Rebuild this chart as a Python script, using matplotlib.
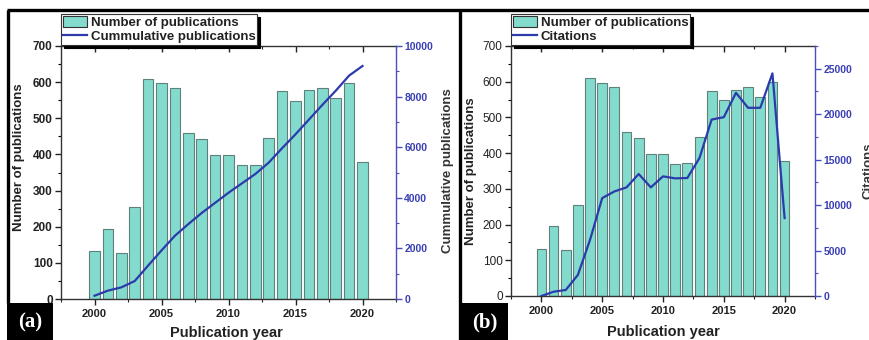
import matplotlib
matplotlib.use("Agg")
import matplotlib.pyplot as plt
from matplotlib.lines import Line2D
from matplotlib.patches import Rectangle, Patch
from matplotlib.ticker import MultipleLocator

plt.rcParams['font.family'] = ['Liberation Sans', 'DejaVu Sans']

years = [2000, 2001, 2002, 2003, 2004, 2005, 2006, 2007, 2008, 2009, 2010,
         2011, 2012, 2013, 2014, 2015, 2016, 2017, 2018, 2019, 2020]
publications = [133, 195, 128, 255, 610, 597, 585, 460, 443, 398, 398,
                370, 372, 446, 575, 548, 578, 585, 556, 598, 378]
cumulative = [130, 330, 460, 710, 1320, 1920, 2500, 2960, 3400, 3800, 4200,
              4570, 4940, 5390, 5960, 6510, 7090, 7670, 8230, 8830, 9210]
citations = [0, 470, 660, 2320, 6180, 10770, 11500, 11950, 13420, 11950, 13160,
             12940, 12980, 15180, 19410, 19670, 22350, 20700, 20700, 24490, 8570]

BAR = '#83dbcd'
BAR_EDGE = '#5f807c'
LINE = '#2b3bac'
RAXIS = '#4a4fc0'
W, H = 870, 340

fig = plt.figure(figsize=(8.7, 3.4), dpi=100)


def fx(px):
    return px / W


def fy(py):
    return 1 - py / H


def make_panel(rect, rdata, rmax, rmajor, rminor, rlabel, legend_label,
               left_tick_weight, ylab_pos, rlab_pos, xlab_pos, legend_px):
    l, t, r, b = rect
    ax = fig.add_axes([fx(l), fy(b), fx(r) - fx(l), fy(t) - fy(b)])
    ax.bar(years, publications, width=0.8, color=BAR, edgecolor=BAR_EDGE,
           linewidth=0.8, zorder=2)
    ax.set_xlim(1997.5, 2022.5)
    ax.set_ylim(0, 700)
    ax.xaxis.set_major_locator(MultipleLocator(5))
    ax.xaxis.set_minor_locator(MultipleLocator(2.5))
    ax.yaxis.set_major_locator(MultipleLocator(100))
    ax.yaxis.set_minor_locator(MultipleLocator(50))
    ax.tick_params(axis='x', which='both', direction='out', top=True,
                   labelsize=8, pad=3, colors='#222222')
    ax.tick_params(axis='x', which='major', length=4, width=1)
    ax.tick_params(axis='x', which='minor', length=2.5, width=0.8)
    ax.tick_params(axis='y', which='major', direction='out', length=4,
                   width=1, labelsize=8.5, pad=2, colors='#222222')
    ax.tick_params(axis='y', which='minor', direction='out', length=2.5,
                   width=0.8)
    # top ticks point inward
    for tk in ax.xaxis.get_major_ticks() + ax.xaxis.get_minor_ticks():
        tk.tick2line.set_marker(3)
    for lab in ax.get_xticklabels():
        lab.set_fontweight('bold')
    for lab in ax.get_yticklabels():
        lab.set_fontweight(left_tick_weight)
    for s in ['left', 'bottom', 'top']:
        ax.spines[s].set_color('#333333')
        ax.spines[s].set_linewidth(1.0)
    ax.spines['right'].set_visible(False)
    ax.set_ylabel('Number of publications', fontsize=9.5, fontweight='bold',
                  color='#222222')
    ax.yaxis.set_label_coords(*ylab_pos)
    ax.set_xlabel('Publication year', fontsize=10.5, fontweight='bold',
                  color='#222222')
    ax.xaxis.set_label_coords(*xlab_pos)

    axr = ax.twinx()
    axr.plot(years, rdata, color=LINE, lw=1.6, zorder=3)
    axr.set_ylim(0, rmax)
    axr.yaxis.set_major_locator(MultipleLocator(rmajor))
    axr.yaxis.set_minor_locator(MultipleLocator(rminor))
    axr.tick_params(axis='y', which='major', direction='out', length=4,
                    width=1, labelsize=7.5, pad=2, colors=RAXIS,
                    labelcolor='#3a3fb5')
    axr.tick_params(axis='y', which='minor', direction='out', length=2.5,
                    width=0.8, colors=RAXIS)
    for lab in axr.get_yticklabels():
        lab.set_fontweight('bold')
    axr.spines['right'].set_color(RAXIS)
    axr.spines['right'].set_linewidth(1.0)
    for s in ['left', 'bottom', 'top']:
        axr.spines[s].set_visible(False)
    axr.set_ylabel(rlabel, fontsize=9.5, fontweight='bold', color='#333333')
    axr.yaxis.set_label_coords(*rlab_pos)

    handles = [Patch(facecolor=BAR, edgecolor='#333333', linewidth=0.8),
               Line2D([0], [0], color=LINE, lw=1.6)]
    lx, ly = legend_px
    leg = fig.legend(handles, ['Number of publications', legend_label],
                     loc='lower left', bbox_to_anchor=(fx(lx), fy(ly)),
                     bbox_transform=fig.transFigure, borderaxespad=0,
                     prop={'size': 9.5, 'weight': 'bold'}, frameon=True,
                     fancybox=False, shadow={'color': 'black', 'alpha': 1},
                     handlelength=1.8, handleheight=0.9, handletextpad=0.3,
                     labelspacing=0.05, borderpad=0.15)
    leg.get_frame().set_edgecolor('#333333')
    leg.get_frame().set_linewidth(0.8)
    for txt in leg.get_texts():
        txt.set_color('#222222')
    return ax, axr


make_panel((61, 46, 396, 299), cumulative, 10000, 2000, 1000,
           'Cummulative publications', 'Cummulative publications', 'bold',
           (-0.107, 0.56), (1.137, 0.506), (0.495, -0.107), (61, 45))

make_panel((511, 46, 815, 296), citations, 27500, 5000, 2500,
           'Citations', 'Citations', 'normal',
           (-0.112, 0.5), (1.155, 0.5), (0.5, -0.116), (511, 45))

# panel frames
frame_kw = dict(color='black', lw=2.4, transform=fig.transFigure,
                solid_capstyle='butt')
fig.add_artist(Line2D([fx(7), fx(870)], [fy(10), fy(10)], **frame_kw))
fig.add_artist(Line2D([fx(8), fx(8)], [fy(10), fy(303)], **frame_kw))
fig.add_artist(Line2D([fx(460), fx(460)], [fy(10), fy(340)], **frame_kw))

# panel label boxes
for (x0, x1, lab) in [(7, 53, '(a)'), (461, 508, '(b)')]:
    fig.add_artist(Rectangle((fx(x0), fy(340)), fx(x1) - fx(x0),
                             fy(303) - fy(340), transform=fig.transFigure,
                             facecolor='black', edgecolor='none'))
    fig.text(fx((x0 + x1) / 2), fy(322), lab, color='white', fontsize=15,
             fontweight='bold', family='Liberation Serif', ha='center',
             va='center')

fig.savefig('out.png', dpi=100)
